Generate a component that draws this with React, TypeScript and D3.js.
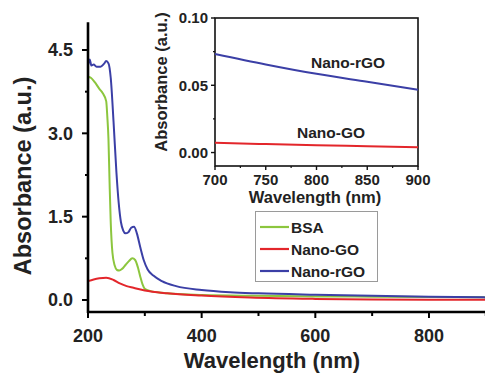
import React, { useRef, useEffect } from 'react';
import * as d3 from 'd3';

// main spectra (wavelength nm, absorbance a.u.)
const bsaWave = [200, 205, 212, 220, 226, 232, 234, 236, 238, 240, 243, 247, 251, 255, 260, 266, 272, 278, 283, 288, 292, 296, 300, 310, 330, 400, 500, 600, 700, 800, 900];
const bsaAbs = [4.02, 4.0, 3.92, 3.8, 3.72, 3.58, 3.3, 2.9, 2.1, 1.4, 0.85, 0.62, 0.54, 0.53, 0.56, 0.63, 0.7, 0.75, 0.72, 0.58, 0.42, 0.28, 0.2, 0.16, 0.13, 0.09, 0.075, 0.065, 0.06, 0.055, 0.05];

const goWave = [200, 210, 220, 232, 245, 256, 268, 280, 300, 340, 400, 485, 600, 700, 800, 900];
const goAbs = [0.34, 0.37, 0.39, 0.4, 0.36, 0.3, 0.25, 0.22, 0.17, 0.12, 0.08, 0.045, 0.02, 0.008, 0.0055, 0.004];

const rgoWave = [200, 203, 206, 210, 215, 222, 228, 232, 236, 240, 245, 250, 254, 258, 262, 266, 271, 276, 281, 286, 292, 298, 305, 315, 330, 355, 400, 450, 500, 600, 700, 800, 900];
const rgoAbs = [4.22, 4.33, 4.22, 4.24, 4.2, 4.2, 4.25, 4.3, 4.26, 4.0, 3.2, 2.3, 1.75, 1.4, 1.25, 1.2, 1.22, 1.3, 1.32, 1.2, 0.95, 0.72, 0.55, 0.44, 0.34, 0.25, 0.18, 0.14, 0.12, 0.095, 0.075, 0.06, 0.047];

// inset (700-900 nm)
const insetWave = [700, 750, 800, 850, 900];
const insetGo = [0.0073, 0.0063, 0.0054, 0.0047, 0.004];
const insetRgo = [0.0733, 0.0655, 0.0585, 0.0526, 0.0467];

const seriesNames = ['BSA', 'Nano-GO', 'Nano-rGO'];
const seriesColors = ['#8cc63e', '#e3262b', '#3b3fa6'];

const mainYTicks = [0, 1.5, 3.0, 4.5];
const mainYMinor = [0.75, 2.25, 3.75];
const mainXTicks = [200, 400, 600, 800];
const mainXMinor = [300, 500, 700, 900];
const insetYTicks = [0, 0.05, 0.1];
const insetYMinor = [0.025, 0.075];
const insetXTicks = [700, 750, 800, 850, 900];
const insetXMinor = [725, 775, 825, 875];

const FONT = 'Liberation Sans, Arial, Helvetica, sans-serif';

export default function App() {
  const svgRef = useRef<SVGSVGElement>(null);

  useEffect(() => {
    const svg = d3.select(svgRef.current);
    svg.selectAll('*').remove();

    const width = 485;
    const height = 373;
    svg.attr('width', width).attr('height', height);
    svg.append('rect').attr('width', width).attr('height', height).attr('fill', '#fff');

    // main scales
    const x = d3.scaleLinear().domain([200, 900]).range([88, 485.8]);
    const y = d3.scaleLinear().domain([0, 4.5]).range([300, 50]);
    const yTop = y(5.0);
    const yBottom = 312;

    const line = d3.line<[number, number]>()
      .x(d => x(d[0]))
      .y(d => y(d[1]))
      .curve(d3.curveMonotoneX);

    const data = [
      d3.zip(bsaWave, bsaAbs),
      d3.zip(goWave, goAbs),
      d3.zip(rgoWave, rgoAbs),
    ] as [number, number][][];

    const main = svg.append('g');
    data.forEach((d, i) => {
      main.append('path')
        .attr('d', line(d))
        .attr('fill', 'none')
        .attr('stroke', seriesColors[i])
        .attr('stroke-width', 2)
        .attr('stroke-linejoin', 'round');
    });

    // axes
    const ax = svg.append('g').attr('stroke', '#000');
    ax.append('line')
      .attr('x1', 88).attr('x2', 88).attr('y1', yTop).attr('y2', yBottom + 1)
      .attr('stroke-width', 2.6);
    ax.append('line')
      .attr('x1', 87).attr('x2', width).attr('y1', yBottom).attr('y2', yBottom)
      .attr('stroke-width', 2.6);
    mainYTicks.forEach(t => {
      ax.append('line').attr('x1', 82).attr('x2', 88).attr('y1', y(t)).attr('y2', y(t)).attr('stroke-width', 2);
    });
    mainYMinor.forEach(t => {
      ax.append('line').attr('x1', 85).attr('x2', 88).attr('y1', y(t)).attr('y2', y(t)).attr('stroke-width', 2);
    });
    mainXTicks.forEach(t => {
      ax.append('line').attr('x1', x(t)).attr('x2', x(t)).attr('y1', yBottom).attr('y2', yBottom + 6).attr('stroke-width', 2);
    });
    mainXMinor.forEach(t => {
      ax.append('line').attr('x1', x(t)).attr('x2', x(t)).attr('y1', yBottom).attr('y2', yBottom + 4).attr('stroke-width', 2);
    });

    const labels = svg.append('g')
      .attr('font-family', FONT)
      .attr('font-weight', 'bold')
      .attr('fill', '#222');
    mainYTicks.forEach(t => {
      labels.append('text')
        .attr('x', 73).attr('y', y(t))
        .attr('dy', '0.36em')
        .attr('text-anchor', 'end')
        .attr('font-size', 18)
        .text(d3.format('.1f')(t));
    });
    mainXTicks.forEach(t => {
      labels.append('text')
        .attr('x', x(t)).attr('y', 342)
        .attr('text-anchor', 'middle')
        .attr('font-size', 18)
        .text(t);
    });
    labels.append('text')
      .attr('x', 272).attr('y', 368)
      .attr('text-anchor', 'middle')
      .attr('font-size', 22)
      .text('Wavelength (nm)');
    labels.append('text')
      .attr('transform', 'translate(31,176) rotate(-90)')
      .attr('text-anchor', 'middle')
      .attr('font-size', 23.5)
      .text('Absorbance (a.u.)');

    // legend
    const lg = svg.append('g');
    lg.append('rect')
      .attr('x', 255.5).attr('y', 211.5).attr('width', 122).attr('height', 70)
      .attr('fill', '#fff').attr('stroke', '#9a9a9a').attr('stroke-width', 1);
    const legendY = [227, 249, 271];
    seriesNames.forEach((name, i) => {
      lg.append('line')
        .attr('x1', 260).attr('x2', 289).attr('y1', legendY[i]).attr('y2', legendY[i])
        .attr('stroke', seriesColors[i]).attr('stroke-width', 2.2);
      lg.append('text')
        .attr('x', 291).attr('y', legendY[i])
        .attr('dy', '0.36em')
        .attr('font-family', FONT).attr('font-weight', 'bold')
        .attr('font-size', 15.5).attr('fill', '#222')
        .text(name);
    });

    // inset
    const ix = d3.scaleLinear().domain([700, 900]).range([215, 418]);
    const iy = d3.scaleLinear().domain([-0.01, 0.1]).range([166, 18]);
    const ins = svg.append('g');
    ins.append('rect')
      .attr('x', 215).attr('y', 18).attr('width', 203).attr('height', 148)
      .attr('fill', '#fff').attr('stroke', '#111').attr('stroke-width', 1.6);

    const iline = d3.line<[number, number]>()
      .x(d => ix(d[0]))
      .y(d => iy(d[1]))
      .curve(d3.curveMonotoneX);
    const insetData = [d3.zip(insetWave, insetGo), d3.zip(insetWave, insetRgo)] as [number, number][][];
    [1, 2].forEach((ci, k) => {
      ins.append('path')
        .attr('d', iline(insetData[k]))
        .attr('fill', 'none')
        .attr('stroke', seriesColors[ci])
        .attr('stroke-width', 2);
    });

    insetYTicks.forEach(t => {
      ins.append('line').attr('x1', 211).attr('x2', 215).attr('y1', iy(t)).attr('y2', iy(t)).attr('stroke', '#111').attr('stroke-width', 1.4);
      ins.append('text')
        .attr('x', 208).attr('y', iy(t)).attr('dy', '0.36em')
        .attr('text-anchor', 'end')
        .attr('font-family', FONT).attr('font-weight', 'bold')
        .attr('font-size', 15).attr('fill', '#222')
        .text(d3.format('.2f')(t));
    });
    insetYMinor.forEach(t => {
      ins.append('line').attr('x1', 213).attr('x2', 215).attr('y1', iy(t)).attr('y2', iy(t)).attr('stroke', '#111').attr('stroke-width', 1.2);
    });
    insetXTicks.forEach(t => {
      ins.append('line').attr('x1', ix(t)).attr('x2', ix(t)).attr('y1', 166).attr('y2', 170).attr('stroke', '#111').attr('stroke-width', 1.4);
      ins.append('text')
        .attr('x', ix(t)).attr('y', 185)
        .attr('text-anchor', 'middle')
        .attr('font-family', FONT).attr('font-weight', 'bold')
        .attr('font-size', 15).attr('fill', '#222')
        .text(t);
    });
    insetXMinor.forEach(t => {
      ins.append('line').attr('x1', ix(t)).attr('x2', ix(t)).attr('y1', 166).attr('y2', 168).attr('stroke', '#111').attr('stroke-width', 1.2);
    });
    ins.append('text')
      .attr('x', 315).attr('y', 203)
      .attr('text-anchor', 'middle')
      .attr('font-family', FONT).attr('font-weight', 'bold')
      .attr('font-size', 16.5).attr('fill', '#222')
      .text('Wavelength (nm)');
    ins.append('text')
      .attr('transform', 'translate(167,82) rotate(-90)')
      .attr('text-anchor', 'middle')
      .attr('font-family', FONT).attr('font-weight', 'bold')
      .attr('font-size', 16.5).attr('fill', '#222')
      .text('Absorbance (a.u.)');
    ins.append('text')
      .attr('x', 348).attr('y', 68)
      .attr('text-anchor', 'middle')
      .attr('font-family', FONT).attr('font-weight', 'bold')
      .attr('font-size', 15.5).attr('fill', '#222')
      .text('Nano-rGO');
    ins.append('text')
      .attr('x', 331).attr('y', 138)
      .attr('text-anchor', 'middle')
      .attr('font-family', FONT).attr('font-weight', 'bold')
      .attr('font-size', 15.5).attr('fill', '#222')
      .text('Nano-GO');
  }, []);

  return (
    <div style={{ position: 'absolute', left: 0, top: 0 }}>
      <svg ref={svgRef} style={{ display: 'block' }} />
    </div>
  );
}
